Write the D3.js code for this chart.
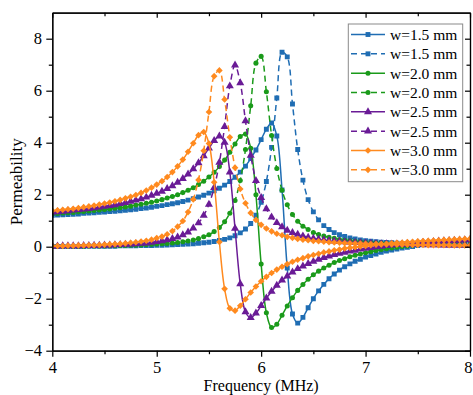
<!DOCTYPE html>
<html><head><meta charset="utf-8">
<script src="https://cdn.jsdelivr.net/npm/d3@7"></script>
<style>
body{margin:0;background:#fff;}
svg{display:block;font-family:"Liberation Serif","Times New Roman",serif;}
</style>
</head><body>
<svg id="chart" width="473" height="395"></svg>
<script>
// ---------------- data ----------------
const freq = [4.00,4.05,4.10,4.15,4.20,4.25,4.30,4.35,4.40,4.45,4.50,4.55,4.60,4.65,4.70,4.75,4.80,4.85,4.90,4.95,
  5.00,5.05,5.10,5.15,5.20,5.25,5.30,5.35,5.40,5.45,5.50,5.55,5.60,5.65,5.70,5.75,5.80,5.85,5.90,5.95,
  6.00,6.05,6.10,6.15,6.20,6.25,6.30,6.35,6.40,6.45,6.50,6.55,6.60,6.65,6.70,6.75,6.80,6.85,6.90,6.95,
  7.00,7.05,7.10,7.15,7.20,7.25,7.30,7.35,7.40,7.45,7.50,7.55,7.60,7.65,7.70,7.75,7.80,7.85,7.90,7.95,8.00];

const w15Real = [1.21,1.22,1.23,1.24,1.25,1.26,1.28,1.29,1.30,1.32,1.33,1.35,1.36,1.38,1.40,1.42,1.44,1.47,1.49,1.52,
  1.55,1.58,1.62,1.65,1.69,1.74,1.79,1.85,1.91,1.98,2.06,2.15,2.25,2.37,2.51,2.67,2.87,3.10,3.39,3.72,
  4.12,4.52,4.76,4.26,2.18,-0.82,-2.59,-2.94,-2.72,-2.35,-2.00,-1.70,-1.45,-1.23,-1.05,-0.90,-0.77,-0.66,-0.56,-0.48,
  -0.40,-0.34,-0.28,-0.22,-0.17,-0.13,-0.09,-0.05,-0.02,0.01,0.04,0.07,0.09,0.11,0.13,0.15,0.17,0.19,0.21,0.22,0.24];
const w15Imag = [0.01,0.01,0.01,0.01,0.01,0.01,0.01,0.02,0.02,0.02,0.02,0.02,0.02,0.03,0.03,0.03,0.03,0.04,0.04,0.04,
  0.05,0.05,0.06,0.07,0.08,0.09,0.10,0.11,0.13,0.15,0.17,0.20,0.24,0.28,0.34,0.42,0.53,0.68,0.89,1.21,
  1.71,2.51,3.82,5.72,7.48,7.30,5.49,3.74,2.56,1.81,1.34,1.03,0.81,0.66,0.54,0.46,0.39,0.34,0.30,0.26,
  0.23,0.21,0.19,0.17,0.16,0.15,0.13,0.12,0.12,0.11,0.10,0.09,0.09,0.08,0.08,0.08,0.07,0.07,0.07,0.06,0.06];

const w20Real = [1.27,1.28,1.30,1.31,1.32,1.34,1.35,1.37,1.39,1.41,1.43,1.45,1.48,1.50,1.53,1.56,1.60,1.63,1.67,1.71,
  1.76,1.81,1.87,1.93,2.00,2.08,2.17,2.27,2.39,2.52,2.68,2.86,3.08,3.33,3.63,3.95,4.24,4.33,3.79,2.00,
  -0.67,-2.54,-3.11,-2.98,-2.64,-2.28,-1.96,-1.68,-1.45,-1.25,-1.08,-0.94,-0.82,-0.71,-0.61,-0.53,-0.46,-0.39,-0.33,-0.28,
  -0.23,-0.19,-0.15,-0.11,-0.08,-0.05,-0.02,0.01,0.03,0.06,0.08,0.10,0.12,0.14,0.15,0.17,0.18,0.20,0.21,0.23,0.24];
const w20Imag = [0.01,0.02,0.02,0.02,0.02,0.02,0.02,0.03,0.03,0.03,0.03,0.04,0.04,0.05,0.05,0.06,0.06,0.07,0.08,0.09,
  0.10,0.11,0.12,0.14,0.16,0.19,0.22,0.26,0.31,0.38,0.46,0.58,0.74,0.96,1.29,1.78,2.55,3.74,5.42,7.06,
  7.32,5.96,4.28,3.01,2.17,1.61,1.24,0.98,0.79,0.66,0.55,0.47,0.41,0.36,0.32,0.28,0.25,0.23,0.21,0.19,
  0.17,0.16,0.15,0.14,0.13,0.12,0.11,0.11,0.10,0.10,0.09,0.09,0.08,0.08,0.07,0.07,0.07,0.07,0.06,0.06,0.06];

const w25Real = [1.33,1.34,1.36,1.38,1.40,1.42,1.44,1.46,1.49,1.52,1.55,1.58,1.61,1.65,1.69,1.74,1.79,1.84,1.90,1.97,
  2.05,2.13,2.23,2.34,2.47,2.62,2.79,2.99,3.22,3.49,3.79,4.08,4.25,4.01,2.87,0.70,-1.43,-2.51,-2.73,-2.56,
  -2.27,-1.98,-1.72,-1.49,-1.29,-1.13,-0.98,-0.85,-0.75,-0.65,-0.57,-0.49,-0.42,-0.36,-0.31,-0.26,-0.22,-0.17,-0.14,-0.10,
  -0.07,-0.04,-0.01,0.01,0.04,0.06,0.08,0.10,0.12,0.13,0.15,0.17,0.18,0.19,0.21,0.22,0.23,0.24,0.25,0.26,0.27];
const w25Imag = [0.02,0.02,0.03,0.03,0.03,0.03,0.04,0.04,0.05,0.05,0.06,0.06,0.07,0.08,0.09,0.10,0.11,0.13,0.14,0.16,
  0.19,0.22,0.26,0.31,0.37,0.45,0.56,0.71,0.91,1.20,1.63,2.27,3.24,4.62,6.18,6.98,6.30,4.84,3.51,2.54,
  1.89,1.45,1.14,0.92,0.76,0.63,0.54,0.47,0.41,0.36,0.32,0.29,0.26,0.23,0.21,0.20,0.18,0.17,0.16,0.15,
  0.14,0.13,0.12,0.11,0.11,0.10,0.10,0.09,0.09,0.08,0.08,0.08,0.07,0.07,0.07,0.06,0.06,0.06,0.06,0.06,0.05];

const w30Real = [1.38,1.40,1.42,1.44,1.46,1.49,1.52,1.55,1.58,1.62,1.66,1.70,1.75,1.80,1.86,1.92,1.99,2.07,2.16,2.27,
  2.39,2.52,2.68,2.87,3.09,3.35,3.65,3.98,4.29,4.41,3.97,2.48,0.18,-1.62,-2.37,-2.46,-2.27,-2.02,-1.76,-1.53,
  -1.33,-1.16,-1.01,-0.88,-0.77,-0.67,-0.58,-0.50,-0.44,-0.37,-0.32,-0.27,-0.22,-0.18,-0.14,-0.11,-0.07,-0.04,-0.02,0.01,
  0.03,0.06,0.08,0.10,0.11,0.13,0.15,0.16,0.18,0.19,0.21,0.22,0.23,0.24,0.25,0.26,0.27,0.28,0.29,0.30,0.31];
const w30Imag = [0.03,0.03,0.03,0.04,0.04,0.05,0.05,0.06,0.06,0.07,0.08,0.09,0.10,0.11,0.13,0.15,0.17,0.20,0.23,0.27,
  0.33,0.39,0.48,0.60,0.77,0.99,1.33,1.82,2.57,3.69,5.18,6.56,6.78,5.66,4.21,3.04,2.22,1.67,1.30,1.03,
  0.84,0.70,0.59,0.50,0.44,0.38,0.34,0.30,0.27,0.25,0.22,0.21,0.19,0.17,0.16,0.15,0.14,0.13,0.12,0.12,
  0.11,0.10,0.10,0.09,0.09,0.09,0.08,0.08,0.08,0.07,0.07,0.07,0.06,0.06,0.06,0.06,0.06,0.05,0.05,0.05,0.05];

const seriesLabels = ["w=1.5 mm","w=1.5 mm","w=2.0 mm","w=2.0 mm","w=2.5 mm","w=2.5 mm","w=3.0 mm","w=3.0 mm"];
const xTicks = [4,5,6,7,8];
const yTicks = [-4,-2,0,2,4,6,8];
const xTitle = "Frequency (MHz)";
const yTitle = "Permeability";

// ---------------- styling ----------------
const colors = {b:"#1f6db3", g:"#1a9a1a", p:"#6a1b96", o:"#ff8a1f"};
const series = [
  {vals:w15Real, color:colors.b, dash:false, mark:"square"},
  {vals:w15Imag, color:colors.b, dash:true,  mark:"square"},
  {vals:w20Real, color:colors.g, dash:false, mark:"circle"},
  {vals:w20Imag, color:colors.g, dash:true,  mark:"circle"},
  {vals:w25Real, color:colors.p, dash:false, mark:"triangle"},
  {vals:w25Imag, color:colors.p, dash:true,  mark:"triangle"},
  {vals:w30Real, color:colors.o, dash:false, mark:"diamond"},
  {vals:w30Imag, color:colors.o, dash:true,  mark:"diamond"}
];
series.forEach((s,i)=>s.label=seriesLabels[i]);

const L=52.3, R=470, T=12.7, B=350.7;
const x = d3.scaleLinear().domain([4,8]).range([L,R]);
const y = d3.scaleLinear().domain([-4,9]).range([B,T]);

const svg = d3.select("#chart");
svg.append("rect").attr("width",473).attr("height",395).attr("fill","#fff");

svg.append("clipPath").attr("id","clip").append("rect")
  .attr("x",L).attr("y",T).attr("width",R-L).attr("height",B-T);

function symbolPath(kind){
  if(kind==="square") return d3.symbol(d3.symbolSquare,24)();
  if(kind==="circle") return d3.symbol(d3.symbolCircle,20)();
  if(kind==="triangle") return d3.symbol(d3.symbolTriangle,28)();
  return d3.symbol(d3.symbolSquare,22)();
}
function markerTransform(kind,px,py){
  return kind==="diamond" ? `translate(${px},${py}) rotate(45)` : `translate(${px},${py})`;
}

const line = d3.line().x((d,i)=>x(freq[i])).y(d=>y(d)).curve(d3.curveCatmullRom.alpha(0.5));

const plot = svg.append("g").attr("clip-path","url(#clip)");
series.forEach(s=>{
  const g = plot.append("g");
  g.append("path").datum(s.vals).attr("d",line)
    .attr("fill","none").attr("stroke",s.color).attr("stroke-width",1.5)
    .attr("stroke-dasharray",s.dash?"6,4":null);
  g.selectAll("path.m").data(s.vals).join("path").attr("class","m")
    .attr("d",symbolPath(s.mark))
    .attr("transform",(d,i)=>markerTransform(s.mark,x(freq[i]),y(d)))
    .attr("fill",s.color);
});

// ---------------- axes ----------------
const axisStyle = g=>{g.select(".domain").attr("stroke","#000").attr("stroke-width",1.2);
  g.selectAll(".tick line").attr("stroke","#000").attr("stroke-width",1.2);
  g.selectAll("text").attr("font-size","16.5px").attr("fill","#000").attr("font-family","Liberation Serif, Times New Roman, serif");};

// bottom
const bAxis = svg.append("g").attr("transform",`translate(0,${B})`)
  .call(d3.axisBottom(x).tickValues(xTicks).tickFormat(d3.format("d")).tickSizeInner(6).tickSizeOuter(0).tickPadding(4.5))
  .call(axisStyle);
// keep the last label inside the page
bAxis.selectAll(".tick text").filter(d=>d===8).attr("text-anchor","end").attr("dx","2");
svg.append("g").attr("transform",`translate(0,${B})`)
  .call(d3.axisBottom(x).tickValues([4.5,5.5,6.5,7.5]).tickFormat("").tickSizeInner(3.5).tickSizeOuter(0))
  .call(axisStyle);
// left
svg.append("g").attr("transform",`translate(${L},0)`)
  .call(d3.axisLeft(y).tickValues(yTicks).tickFormat(d3.format("d")).tickSizeInner(6).tickSizeOuter(0).tickPadding(4.3))
  .call(axisStyle);
svg.append("g").attr("transform",`translate(${L},0)`)
  .call(d3.axisLeft(y).tickValues([-3,-1,1,3,5,7]).tickFormat("").tickSizeInner(3.5).tickSizeOuter(0))
  .call(axisStyle);
// top (inward)
svg.append("g").attr("transform",`translate(0,${T})`)
  .call(d3.axisTop(x).tickValues(xTicks).tickFormat("").tickSizeInner(-5).tickSizeOuter(0))
  .call(axisStyle);
svg.append("g").attr("transform",`translate(0,${T})`)
  .call(d3.axisTop(x).tickValues([4.5,5.5,6.5,7.5]).tickFormat("").tickSizeInner(-3.5).tickSizeOuter(0))
  .call(axisStyle);
// right (inward)
svg.append("g").attr("transform",`translate(${R},0)`)
  .call(d3.axisRight(y).tickValues(yTicks).tickFormat("").tickSizeInner(-5).tickSizeOuter(0))
  .call(axisStyle);
svg.append("g").attr("transform",`translate(${R},0)`)
  .call(d3.axisRight(y).tickValues([-3,-1,1,3,5,7]).tickFormat("").tickSizeInner(-3.5).tickSizeOuter(0))
  .call(axisStyle);

// titles
svg.append("text").attr("x",(L+R)/2).attr("y",391.3).attr("text-anchor","middle")
  .attr("font-size","16px").attr("fill","#000").text(xTitle);
svg.append("text").attr("transform",`translate(22,${(T+B)/2}) rotate(-90)`).attr("text-anchor","middle")
  .attr("font-size","17px").attr("fill","#000").text(yTitle);

// ---------------- legend ----------------
const lg = svg.append("g");
lg.append("rect").attr("x",348.3).attr("y",24).attr("width",114.4).attr("height",157.7)
  .attr("fill","#fff").attr("stroke","#8a8a8a").attr("stroke-width",1);
series.forEach((s,i)=>{
  const cy = 34.5 + i*19.33;
  lg.append("line").attr("x1",351).attr("x2",385).attr("y1",cy).attr("y2",cy)
    .attr("stroke",s.color).attr("stroke-width",1.5).attr("stroke-dasharray",s.dash?"6,4":null);
  lg.append("path").attr("d",symbolPath(s.mark)).attr("transform",markerTransform(s.mark,368,cy)).attr("fill",s.color);
  lg.append("text").attr("x",390).attr("y",cy).attr("dy","0.35em").attr("font-size","15.5px").attr("fill","#000").text(s.label);
});
</script>
</body></html>
